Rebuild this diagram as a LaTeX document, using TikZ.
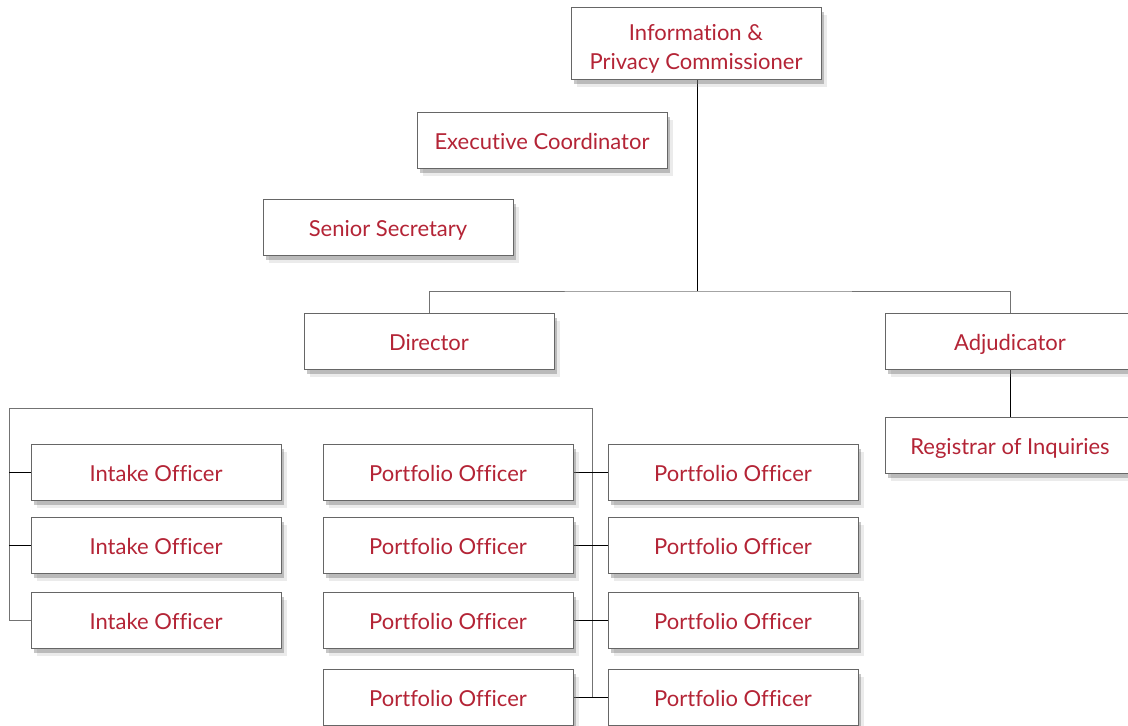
\documentclass[tikz,border=0pt]{standalone}
\usepackage{fontspec}
\setmainfont[Ligatures=NoCommon]{Lato}
\usetikzlibrary{shadows,backgrounds}
\definecolor{ipcred}{RGB}{180,36,54}

\begin{document}
\begin{tikzpicture}[x=1pt, y=-1pt,
  box/.style={draw=black!60, fill=white, minimum width=250pt, minimum height=56pt,
    inner sep=0pt, align=center, text=ipcred, font=\fontsize{22}{29}\selectfont,
    text height=21pt, text depth=2pt,
    drop shadow={shadow xshift=6pt, shadow yshift=-8pt, fill=black!40, opacity=0.2},
    drop shadow={shadow xshift=3pt, shadow yshift=-5pt, fill=black!55, opacity=0.4}},
  link/.style={draw=black!55, line width=0.8pt},
  tick/.style={draw=black, line width=0.8pt}]
\useasboundingbox (0,0) rectangle (1128,726);

% top of the office
\node[box, minimum height=72pt, text height=53pt, text depth=1pt] (ipc) at (696,43) {Information \&\\Privacy Commissioner};
\node[box] (exec) at (542,140) {Executive Coordinator};
\node[box] (secr) at (388,227) {Senior Secretary};
\node[box] (dir) at (429,341) {Director};
\node[box] (adj) at (1010,341) {Adjudicator};
\node[box] (reg) at (1010,445) {Registrar of Inquiries};

% staff under the director
\node[box] (in1) at (156,472) {Intake Officer};
\node[box] (in2) at (156,545) {Intake Officer};
\node[box] (in3) at (156,620) {Intake Officer};
\node[box] (pl1) at (448,472) {Portfolio Officer};
\node[box] (pl2) at (448,545) {Portfolio Officer};
\node[box] (pl3) at (448,620) {Portfolio Officer};
\node[box] (pl4) at (448,697) {Portfolio Officer};
\node[box] (pr1) at (733,472) {Portfolio Officer};
\node[box] (pr2) at (733,545) {Portfolio Officer};
\node[box] (pr3) at (733,620) {Portfolio Officer};
\node[box] (pr4) at (733,697) {Portfolio Officer};

\coordinate (split) at (697,291);
\coordinate (bl) at (9,408);
\coordinate (br) at (592,408);

\begin{scope}[on background layer]
\draw[tick] (ipc.south -| split) -- (split);
\draw[link] (dir.north) |- (split) -| (adj.north);
\draw[tick] (adj) -- (reg);
\draw[link] (in3.west) -| (bl) -- (br) -- (br |- pl4.east);
\draw[tick] (in1.west) -- (in1.west -| bl);
\draw[tick] (in2.west) -- (in2.west -| bl);
\draw[tick] (pl1.east) -- (pr1.west);
\draw[tick] (pl2.east) -- (pr2.west);
\draw[tick] (pl3.east) -- (pr3.west);
\draw[tick] (pl4.east) -- (pr4.west);
\end{scope}
\end{tikzpicture}
\end{document}
